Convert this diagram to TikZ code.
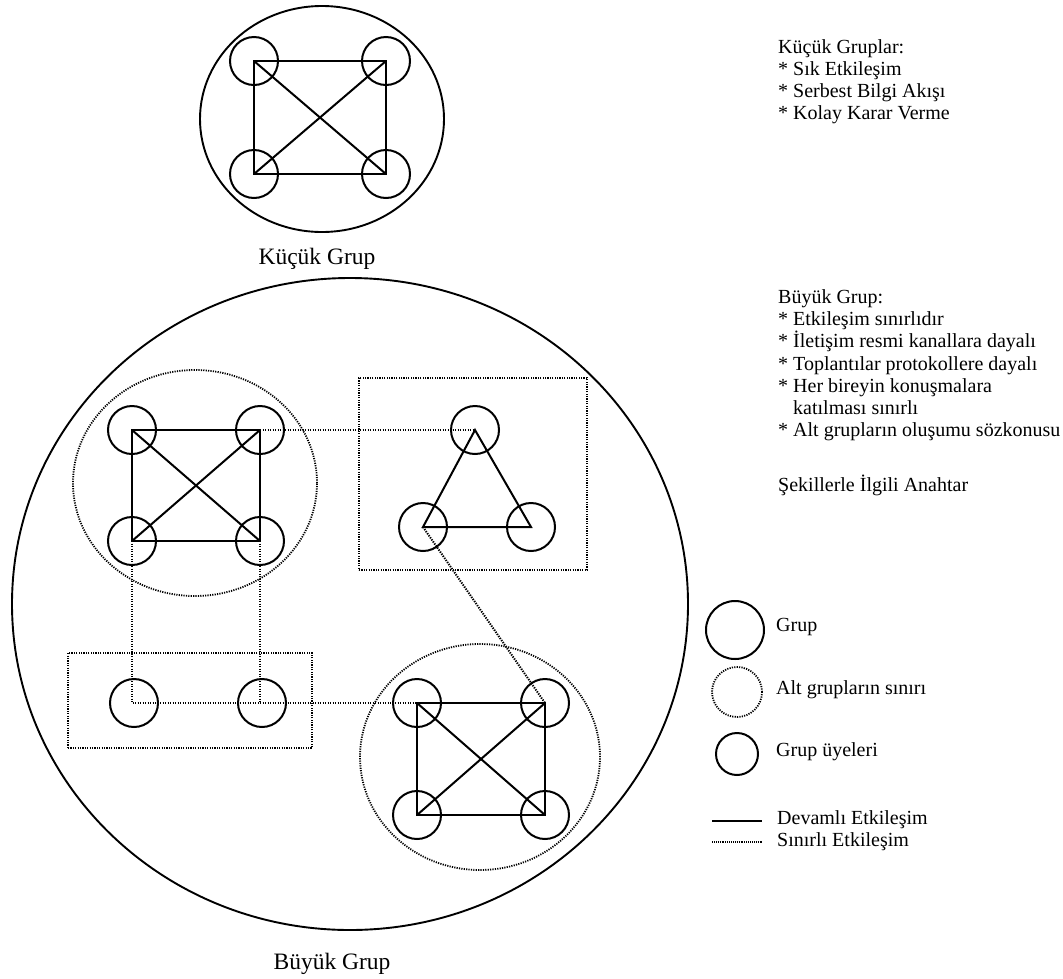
\documentclass[tikz,border=0pt]{standalone}
\usepackage{fontspec}
\setmainfont{Liberation Serif}
\usetikzlibrary{shapes.geometric}
\begin{document}
\begin{tikzpicture}[x=1pt,y=-1pt,
  grp/.style={ellipse, draw, line width=1.9pt, inner sep=0pt},
  subgrp/.style={draw, line width=1.8pt, dash pattern=on 1.2pt off 1.2pt, inner sep=0pt},
  member/.style={circle, draw, line width=2pt, minimum size=48pt, inner sep=0pt},
  solidlink/.style={line width=2pt, line join=miter},
  dotlink/.style={line width=2pt, dash pattern=on 1.3pt off 1.2pt},
  txt/.style={anchor=base west, inner sep=0pt, font=\fontsize{20}{22}\selectfont},
  lbl/.style={anchor=base, inner sep=0pt, font=\fontsize{23.5}{26}\selectfont}]
\useasboundingbox (0,0) rectangle (1063,978);

% ---- small group ----
\node[grp, minimum width=244pt, minimum height=226pt] (small) at (322,119) {};
\node[member] (s1) at (254,61) {};
\node[member] (s2) at (386,61) {};
\node[member] (s3) at (254,174) {};
\node[member] (s4) at (386,174) {};
\draw[solidlink] (s1.center) -- (s2.center) -- (s4.center) -- (s3.center) -- cycle;
\draw[solidlink] (s1.center) -- (s4.center);
\draw[solidlink] (s2.center) -- (s3.center);
\node[lbl] (smalllbl) at (317,264) {Küçük Grup};

% ---- large group ----
\node[grp, minimum width=676pt, minimum height=652pt] (large) at (350,604) {};
\node[lbl] (largelbl) at (332,969) {Büyük Grup};

% upper-left subgroup
\node[subgrp, ellipse, minimum width=244pt, minimum height=226pt] (subA) at (195,483) {};
\node[member] (a1) at (132,430) {};
\node[member] (a2) at (260,430) {};
\node[member] (a3) at (132,541) {};
\node[member] (a4) at (260,541) {};
\draw[solidlink] (a1.center) -- (a2.center) -- (a4.center) -- (a3.center) -- cycle;
\draw[solidlink] (a1.center) -- (a4.center);
\draw[solidlink] (a2.center) -- (a3.center);

% triangle subgroup
\node[subgrp, rectangle, minimum width=228pt, minimum height=192pt] (subT) at (473,474) {};
\node[member] (t1) at (475,430) {};
\node[member] (t2) at (423,527) {};
\node[member] (t3) at (531,527) {};
\draw[solidlink] (t1.center) -- (t3.center) -- (t2.center) -- cycle;

% pair subgroup
\node[subgrp, rectangle, minimum width=244pt, minimum height=95pt] (subB) at (190,700.5) {};
\node[member] (b1) at (134,703) {};
\node[member] (b2) at (262,703) {};

% lower-right subgroup
\node[subgrp, ellipse, minimum width=240pt, minimum height=226pt] (subC) at (480,757) {};
\node[member] (c1) at (417,703) {};
\node[member] (c2) at (545,703) {};
\node[member] (c3) at (417,815) {};
\node[member] (c4) at (545,815) {};
\draw[solidlink] (c1.center) -- (c2.center) -- (c4.center) -- (c3.center) -- cycle;
\draw[solidlink] (c1.center) -- (c4.center);
\draw[solidlink] (c2.center) -- (c3.center);

% limited interaction between subgroups
\draw[dotlink] (a2.center) -- (t1.center);
\draw[dotlink] (a3.center) -- (b1.center -| a3.center) -- (c1.center);
\draw[dotlink] (a4.center) -- (b2.center -| a4.center);
\draw[dotlink] (t2.center) -- (c2.center);

% ---- notes ----
\node[txt] (n1) at (778,53) {Küçük Gruplar:};
\node[txt] (n2) at (778,75) {* Sık Etkileşim};
\node[txt] (n3) at (778,97) {* Serbest Bilgi Akışı};
\node[txt] (n4) at (778,119) {* Kolay Karar Verme};

\node[txt] (m1) at (778,303) {Büyük Grup:};
\node[txt] (m2) at (778,325) {* Etkileşim sınırlıdır};
\node[txt] (m3) at (778,347) {* İletişim resmi kanallara dayalı};
\node[txt] (m4) at (778,370) {* Toplantılar protokollere dayalı};
\node[txt] (m5) at (778,392) {* Her bireyin konuşmalara};
\node[txt] (m6) at (793,414) {katılması sınırlı};
\node[txt] (m7) at (778,436) {* Alt grupların oluşumu sözkonusu};

% ---- key ----
\node[txt] (k0) at (778,491) {Şekillerle İlgili Anahtar};
\node[circle, draw, line width=2pt, minimum size=58pt, inner sep=0pt] (k1) at (735,630) {};
\node[txt] (k1t) at (776,631) {Grup};
\node[circle, subgrp, minimum size=50pt] (k2) at (737,692) {};
\node[txt] (k2t) at (776,694) {Alt grupların sınırı};
\node[circle, draw, line width=2pt, minimum size=42pt, inner sep=0pt] (k3) at (737,754) {};
\node[txt] (k3t) at (776,756) {Grup üyeleri};

\coordinate (ls1) at (712,821);
\coordinate (ls2) at (762,821);
\coordinate (ld1) at (712,842);
\coordinate (ld2) at (762,842);
\draw[line width=2pt] (ls1) -- (ls2);
\draw[line width=1.3pt, dash pattern=on 0.9pt off 1pt] (ld1) -- (ld2);
\node[txt] (l1t) at (777,824) {Devamlı Etkileşim};
\node[txt] (l2t) at (777,846) {Sınırlı Etkileşim};
\end{tikzpicture}
\end{document}
